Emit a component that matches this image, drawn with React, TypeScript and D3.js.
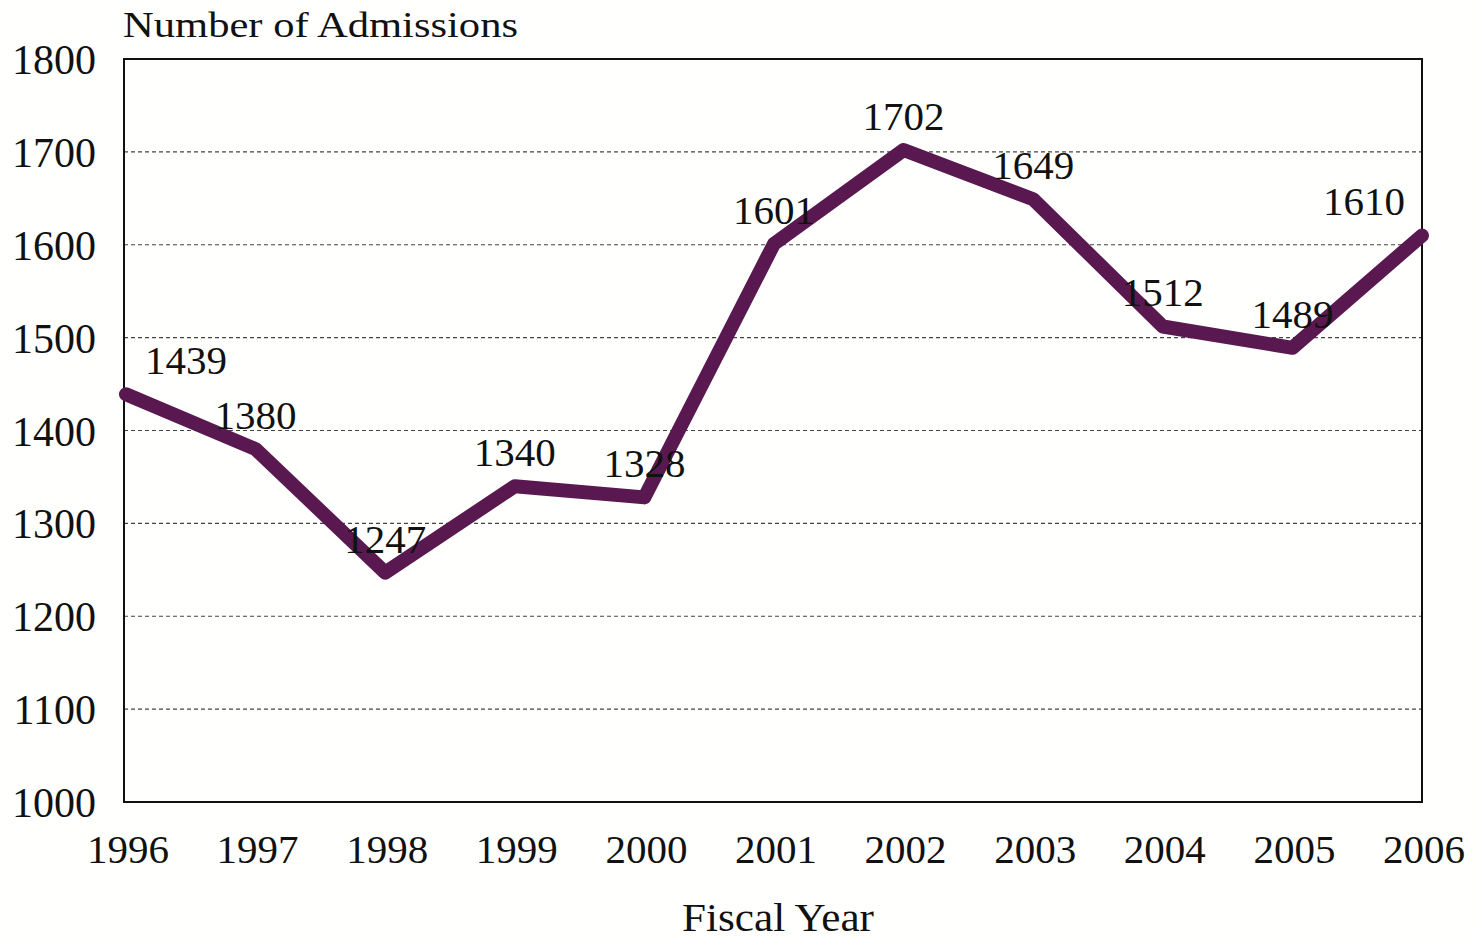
import React from "react";
import * as d3 from "d3";

const years: number[] = [1996, 1997, 1998, 1999, 2000, 2001, 2002, 2003, 2004, 2005, 2006];
const admissions: number[] = [1439, 1380, 1247, 1340, 1328, 1601, 1702, 1649, 1512, 1489, 1610];
const yTicks: number[] = [1000, 1100, 1200, 1300, 1400, 1500, 1600, 1700, 1800];
const yTitle = "Number of Admissions";
const xTitle = "Fiscal Year";

const W = 1478;
const H = 939;
const FONT = "'Liberation Serif', 'Times New Roman', serif";

export default function App() {
  const x = d3.scaleLinear().domain([1996, 2006]).range([126, 1422]);
  const y = d3.scaleLinear().domain([1000, 1800]).range([802, 59]);
  const pts = years.map((yr, i) => [x(yr), y(admissions[i])] as [number, number]);
  const line = d3.line<[number, number]>().x((d) => d[0]).y((d) => d[1])(pts) || "";
  const left = x(1996) - 2;
  const right = x(2006);

  return (
    <svg
      width={W}
      height={H}
      style={{ position: "absolute", left: 0, top: 0, background: "#fffffd" }}
      fontFamily={FONT}
    >
      <rect x={0} y={0} width={W} height={H} fill="#fffffd" />
      {yTicks.slice(1, -1).map((t) => (
        <line
          key={t}
          x1={left}
          x2={right}
          y1={y(t)}
          y2={y(t)}
          stroke="#444"
          strokeWidth={1.2}
          strokeDasharray="4,3"
        />
      ))}
      <rect
        x={left}
        y={y(1800)}
        width={right - left}
        height={y(1000) - y(1800)}
        fill="none"
        stroke="#111"
        strokeWidth={2}
      />
      {yTicks.map((t) => (
        <text key={t} x={96} y={y(t) + 15} textAnchor="end" fontSize={42} fill="#111">
          {t}
        </text>
      ))}
      {years.map((yr) => (
        <text key={yr} x={x(yr) + 2} y={863} textAnchor="middle" fontSize={41} fill="#111">
          {yr}
        </text>
      ))}
      <text x={123} y={37} fontSize={36} fill="#111" textLength={395} lengthAdjust="spacingAndGlyphs">
        {yTitle}
      </text>
      <text x={682} y={931} fontSize={40} fill="#111" textLength={192} lengthAdjust="spacingAndGlyphs">
        {xTitle}
      </text>
      <path
        d={line}
        fill="none"
        stroke="#5a1850"
        strokeWidth={14}
        strokeLinejoin="round"
        strokeLinecap="round"
      />
      {pts.map(([px, py], i) => {
        const dx = i === 0 ? 60 : i === pts.length - 1 ? -58 : 0;
        return (
          <text
            key={i}
            x={px + dx}
            y={py - 20}
            textAnchor="middle"
            fontSize={41}
            fill="#111"
          >
            {admissions[i]}
          </text>
        );
      })}
    </svg>
  );
}
